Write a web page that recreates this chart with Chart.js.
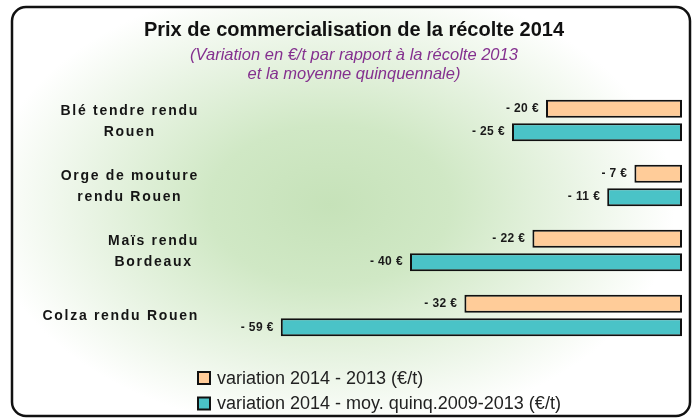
<!DOCTYPE html>
<html>
<head>
<meta charset="utf-8">
<script src="https://cdn.jsdelivr.net/npm/chart.js@4"></script>
<style>
  html, body { margin: 0; padding: 0; background: #fff; }
  #wrap { width: 697px; height: 419px; }
</style>
</head>
<body>
<div id="wrap"><canvas id="recolte-chart"></canvas></div>
<script>
const categories = [
  ["Blé tendre rendu", "Rouen"],
  ["Orge de mouture", "rendu Rouen"],
  ["Maïs rendu", "Bordeaux"],
  ["Colza rendu Rouen"],
];
const variation2013 = [-20, -7, -22, -32];
const variationQuinq = [-25, -11, -40, -59];
const seriesLabels = [
  "variation 2014 - 2013 (€/t)",
  "variation 2014 - moy. quinq.2009-2013 (€/t)",
];
const seriesColors = ["#FFCC99", "#4AC3C7"];

const FONT = "'Liberation Sans', Arial, sans-serif";

// frame + soft green background
const backgroundPlugin = {
  id: "background",
  beforeDraw(chart) {
    const ctx = chart.ctx;
    const x = 12, y = 7, w = 678, h = 409, r = 14;
    const framePath = () => {
      ctx.beginPath();
      ctx.moveTo(x + r, y);
      ctx.lineTo(x + w - r, y);
      ctx.arcTo(x + w, y, x + w, y + r, r);
      ctx.lineTo(x + w, y + h - r);
      ctx.arcTo(x + w, y + h, x + w - r, y + h, r);
      ctx.lineTo(x + r, y + h);
      ctx.arcTo(x, y + h, x, y + h - r, r);
      ctx.lineTo(x, y + r);
      ctx.arcTo(x, y, x + r, y, r);
      ctx.closePath();
    };
    ctx.save();
    ctx.fillStyle = "#fff";
    ctx.fillRect(0, 0, chart.width, chart.height);
    framePath();
    ctx.clip();
    ctx.translate(330, 205);
    ctx.scale(1, 0.66);
    const g = ctx.createRadialGradient(0, 0, 0, 0, 0, 345);
    g.addColorStop(0, "#c6e2b9");
    g.addColorStop(0.35, "#d0e8c5");
    g.addColorStop(0.7, "#e9f4e4");
    g.addColorStop(1, "#ffffff");
    ctx.fillStyle = g;
    ctx.fillRect(-400, -400, 800, 800);
    ctx.restore();
    ctx.save();
    framePath();
    ctx.lineWidth = 2.5;
    ctx.strokeStyle = "#111";
    ctx.stroke();
    ctx.restore();
  },
};

// category names, value labels and the stacked legend
const labelsPlugin = {
  id: "labels",
  afterDraw(chart) {
    const ctx = chart.ctx;
    const yScale = chart.scales.y;

    ctx.save();
    ctx.font = "bold 14px " + FONT;
    ctx.letterSpacing = "1.7px";
    ctx.fillStyle = "#151515";
    ctx.textAlign = "center";
    ctx.textBaseline = "middle";
    chart.data.labels.forEach((lab, i) => {
      const lines = Array.isArray(lab) ? lab : [lab];
      const maxW = Math.max(...lines.map((l) => ctx.measureText(l).width));
      const cx = 199 - maxW / 2;
      const yc = yScale.getPixelForValue(i);
      lines.forEach((l, j) => {
        ctx.fillText(l, cx, yc - ((lines.length - 1) * 21) / 2 + j * 21 + 1);
      });
    });
    ctx.restore();

    ctx.save();
    ctx.font = "bold 12px " + FONT;
    ctx.letterSpacing = "0.4px";
    ctx.fillStyle = "#1a1a1a";
    ctx.textAlign = "right";
    ctx.textBaseline = "middle";
    chart.data.datasets.forEach((ds, d) => {
      chart.getDatasetMeta(d).data.forEach((bar, i) => {
        ctx.fillText("- " + Math.abs(ds.data[i]) + " €", bar.x - 7, bar.y);
      });
    });
    ctx.restore();

    ctx.save();
    ctx.font = "18px " + FONT;
    ctx.textBaseline = "middle";
    chart.data.datasets.forEach((ds, d) => {
      const yc = 378 + d * 25.5;
      ctx.fillStyle = ds.backgroundColor;
      ctx.fillRect(198, yc - 6, 12, 12);
      ctx.lineWidth = 2;
      ctx.strokeStyle = "#111";
      ctx.strokeRect(198, yc - 6, 12, 12);
      ctx.fillStyle = "#222";
      ctx.fillText(ds.label, 217, yc + 1);
    });
    ctx.restore();
  },
};

new Chart(document.getElementById("recolte-chart"), {
  type: "bar",
  data: {
    labels: categories,
    datasets: [
      {
        label: seriesLabels[0],
        data: variation2013,
        backgroundColor: seriesColors[0],
        borderColor: "#111",
        borderWidth: 2,
        borderSkipped: false,
      },
      {
        label: seriesLabels[1],
        data: variationQuinq,
        backgroundColor: seriesColors[1],
        borderColor: "#111",
        borderWidth: 2,
        borderSkipped: false,
      },
    ],
  },
  options: {
    indexAxis: "y",
    responsive: true,
    maintainAspectRatio: false,
    animation: false,
    categoryPercentage: 0.72,
    barPercentage: 0.77,
    layout: { padding: { top: 8, left: 26, right: 15, bottom: 71 } },
    scales: {
      x: { display: false, min: -70, max: 0 },
      y: {
        ticks: { display: false },
        grid: { display: false },
        border: { display: false },
        afterFit: (scale) => { scale.width = 180; },
      },
    },
    plugins: {
      legend: { display: false },
      tooltip: { enabled: false },
      title: {
        display: true,
        text: "Prix de commercialisation de la récolte 2014",
        color: "#111",
        font: { family: FONT, size: 20, weight: "bold" },
        padding: { top: 10, bottom: 4 },
      },
      subtitle: {
        display: true,
        text: ["(Variation en €/t par rapport à la récolte 2013", "et la moyenne quinquennale)"],
        color: "#84308f",
        font: { family: FONT, size: 16.5, style: "italic", lineHeight: 1.15 },
        padding: { top: 0, bottom: 4 },
      },
    },
  },
  plugins: [backgroundPlugin, labelsPlugin],
});
</script>
</body>
</html>
